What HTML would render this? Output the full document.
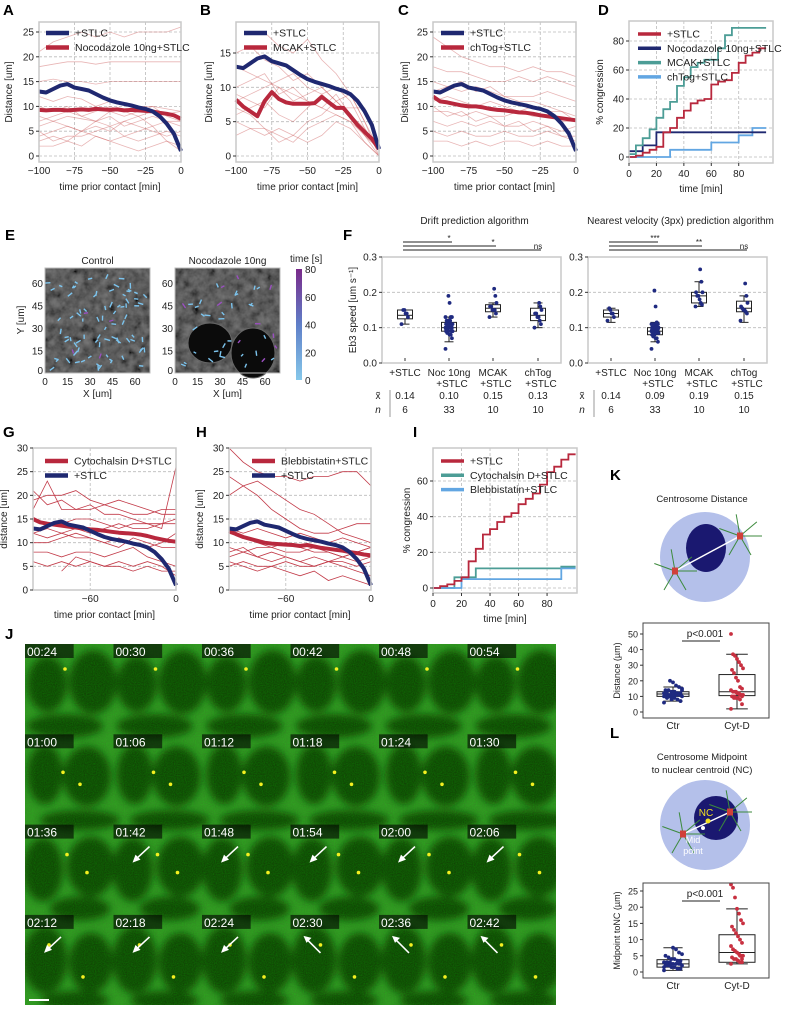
<!DOCTYPE html>
<html><head><meta charset="utf-8"><style>
html,body{margin:0;padding:0;background:#fff}
svg{display:block;font-family:"Liberation Sans",sans-serif}
</style></head><body>
<svg id="fig" width="785" height="1010" viewBox="0 0 785 1010" xmlns="http://www.w3.org/2000/svg">
<defs>
<filter id="grain" x="0" y="0" width="100%" height="100%">
<feTurbulence type="fractalNoise" baseFrequency="0.9" numOctaves="1" seed="3" result="n"/>
<feColorMatrix in="n" type="matrix" values="0 0 0 0 0  0.5 0.9 0 0 0.1  0 0 0 0 0  0 0 0 0.9 0"/>
</filter>
<filter id="ggrain" x="0" y="0" width="100%" height="100%">
<feTurbulence type="fractalNoise" baseFrequency="0.12" numOctaves="3" seed="7" result="n"/>
<feColorMatrix in="n" type="matrix" values="0.6 0.6 0.6 0 -0.5  0.6 0.6 0.6 0 -0.5  0.6 0.6 0.6 0 -0.5  0 0 0 0 1"/>
</filter>
<filter id="blur4" x="-20%" y="-20%" width="140%" height="140%"><feGaussianBlur stdDeviation="4"/></filter>
<clipPath id="jclip"><rect x="25" y="644" width="531" height="361"/></clipPath>
<linearGradient id="cbar" x1="0" y1="1" x2="0" y2="0"><stop offset="0" stop-color="#86c8ea"/><stop offset="0.5" stop-color="#5f7fc8"/><stop offset="1" stop-color="#7a2a8a"/></linearGradient>
</defs>
</svg>
<script>
// ---------- DATA ----------
const thickX=[-100,-95,-90,-85,-80,-75,-70,-65,-60,-55,-50,-45,-40,-35,-30,-25,-20,-15,-10,-5,0];
const thinX=[-100,-90,-80,-70,-60,-50,-40,-30,-20,-10,0];
const stlcMean=[13,12.8,13.5,14.2,14.5,13.8,13.5,13.2,12.5,11.8,11.2,10.8,10.5,10.2,9.8,9.5,9,8,6.5,4.5,1];
const nocMean=[9.3,9.2,9.3,9.3,9.2,9.3,9.4,9.3,9.5,9.4,9.3,9.4,9.2,9.3,9.2,9.1,9,8.7,8.5,8.2,7.5];
const mcakMean=[8.2,7.2,6.5,5.8,8,9.3,8.3,7.8,7.6,7.6,7.6,7.7,8.6,7.8,7,7,5.8,4.5,3.5,2.5,1];
const chtogMean=[12,11,10.8,10.5,10.2,10,10,9.8,9.5,9.3,9.2,9,8.8,8.7,8.5,8.2,8,7.8,7.6,7.4,7.2];
const cytoMean=[15,14.3,14,13.8,13.6,13.4,13.2,13,12.8,12.7,12.5,12.3,12.1,12,11.9,11.7,11.4,11,10.7,10.4,10.2];
const blebMean=[12.5,11.8,11.2,10.8,10.4,10,9.8,9.7,9.6,9.5,9.3,9.5,9.2,8.9,8.7,8.5,8.3,8,7.8,7.5,7.3];
const thinA=[[21,23,24,25,24,25,24,25,25,25,26],[18,18.5,19,19,18.5,19,19,19,19,19,19],[15,15.5,15,15,14.5,15,15,15,15,15,15],[12,11,12,11.5,10,11,10.5,10,10,9.5,9],[10,9,10,8,9,10,9,8,9,8.5,9],[8,7,8,7.5,7,8,6,7,8,7,6],[6,7,6,5,7,6,7,8,6,7,7],[4,5,6,5,6,5,7,6,5,4,5],[3,4,3,5,4,3,4,5,6,3,2],[2,2,3,2,4,3,2,1,2,3,1],[5,3,4,4,5,6,4,3,4,5,4],[7,8,9,8,7,9,8,9,10,8,7]];
const thinB=[[7,6,4,2,3,5,6,8,9,5,0],[13,12,11,10,8,9,10,8,6,4,1],[9,8,7,10,9,8,7,9,6,3,1],[5,4,3,4,3,2,3,5,4,2,0],[10,11,12,9,10,8,7,6,5,3,0],[15,16,14,13,11,12,10,8,6,3,1],[6,7,8,6,5,7,9,10,8,4,1],[null,null,18,16,15,17,14,12,9,5,1],[3,4,4,3,2,4,5,6,5,2,0],[8,9,10,11,12,10,9,7,7,7,1]];
const thinC=[[24,22,20,19,18,18,17,18,17,17,16],[18,17,17,16,15,15,16,15,16,15,14],[15,14,13,14,13,12,12,12,13,12,11],[11,12,11,10,11,10,9,10,9,9,8],[9,9,8,9,8,8,9,8,8,7,7],[7,6,7,6,7,6,6,7,6,5,6],[5,4,5,4,4,5,4,4,5,4,4],[3,3,2,3,2,3,3,2,3,2,2],[13,14,15,13,14,12,11,11,10,9,7],[10,8,9,7,8,6,7,5,6,4,3]];
const thinG=[[21,18,19,17,17,18,17,16,16,17,17],[19,20,20,21,19,18,19,18,17,16,16],[17,23,17,17,18,16,16,15,14,14,15],[12,11,12,11,11,10,9,11,10,9,9],[10,10,11,12,11,10,11,10,9,10,12],[8,8,7,8,8,7,8,9,7,6,5],[12,13,12,13,12,13,14,13,13,14,14],[6,5,6,5,6,5,5,4,5,4,4],[null,null,4,7,6,5,6,5,6,5,3],[15,14,14,15,15,14,13,14,14,13,26]];
const thinH=[[24,22,20,17,15,13,12,12,13,14,14],[30,27,25,24,24,23,24,24,25,25,22],[20,22,23,21,19,17,16,14,12,11,10],[13,12,13,12,11,12,11,10,11,10,9],[9,8,9,9,8,8,9,8,7,8,9],[7,8,7,8,7,6,7,6,6,5,6],[5,6,5,5,6,5,5,6,5,4,3],[6,5,4,5,4,3,4,2,3,2,1],[8,9,7,6,7,6,5,6,7,6,7],[12,11,10,9,10,9,8,8,7,8,9]];
const congT=[0,5,10,15,20,25,30,35,40,45,50,55,60,65,70,75,80,85,90,95,100];
const congStlc=[0,1,3,5,7,17,20,27,32,37,39,40,50,52,53,58,65,70,72,75,75];
const congNoc=[4,4,8,8,17,17,17,17,17,17,17,17,17,17,17,17,17,17,17,17,17];
const congMcak=[2,8,13,19,27,33,38,49,55,62,65,67,67,75,84,89,89,89,89,89,89];
const congChtog=[0,0,0,0,0,0,5,5,5,5,5,5,10,10,10,10,15,15,20,20,20];
const congStlcI=[0,1,2,4,6,15,22,30,33,37,40,42,47,50,53,58,65,68,72,75,75];
const congCyto=[0,0,0,6,6,6,11,11,11,11,11,11,11,11,11,11,11,11,12,12,12];
const congBleb=[0,0,0,0,5,5,5,5,5,5,5,5,5,5,5,5,5,5,11,11,11];
const fCats=['+STLC','Noc 10ng','MCAK','chTog'];
const fCats2=['','+STLC','+STLC','+STLC'];
const fMedL=['0.14','0.10','0.15','0.13'];
const fMedR=['0.14','0.09','0.19','0.15'];
const fN=['6','33','10','10'];
const fStatsL=[[0.11,0.125,0.135,0.15,0.15],[0.06,0.09,0.10,0.115,0.13],[0.13,0.145,0.155,0.165,0.17],[0.10,0.12,0.135,0.155,0.17]];
const fStatsR=[[0.115,0.13,0.14,0.15,0.155],[0.06,0.08,0.09,0.10,0.115],[0.16,0.17,0.19,0.20,0.23],[0.115,0.145,0.155,0.175,0.19]];
const fPtsL=[[0.11,0.13,0.14,0.14,0.15,0.15],[0.04,0.07,0.08,0.08,0.09,0.09,0.09,0.09,0.09,0.10,0.10,0.10,0.10,0.10,0.10,0.10,0.11,0.11,0.11,0.11,0.11,0.11,0.12,0.12,0.12,0.12,0.13,0.13,0.13,0.17,0.19,0.085,0.095],[0.13,0.14,0.15,0.15,0.15,0.16,0.16,0.17,0.19,0.21],[0.10,0.11,0.12,0.13,0.13,0.14,0.14,0.15,0.16,0.17]];
const fPtsR=[[0.12,0.13,0.14,0.14,0.15,0.155],[0.04,0.06,0.07,0.07,0.08,0.08,0.08,0.085,0.085,0.09,0.09,0.09,0.09,0.09,0.095,0.095,0.1,0.1,0.1,0.1,0.1,0.1,0.105,0.11,0.11,0.11,0.11,0.11,0.115,0.16,0.205,0.075,0.095],[0.16,0.165,0.17,0.18,0.19,0.19,0.2,0.2,0.23,0.265],[0.12,0.14,0.145,0.15,0.15,0.155,0.16,0.17,0.19,0.225]];
const kStats=[[7,10,11.5,13,16],[2,10.5,13,24,37]];
const kPts=[[6,7,8,9,9,10,10,10,11,11,11,11,12,12,12,12,13,13,14,14,15,16,17,19,20,9,10,11,12,13,8,10,12,14],[2,5,8,9,9,10,10,11,11,12,12,13,13,14,15,16,20,22,25,27,28,30,32,34,36,37,50,10,11,12,13,9]];
const lStats=[[0.5,1.5,2.5,3.8,7.5],[2.5,3,6,11.5,19.5]];
const lPts=[[0.5,1,1,1.5,1.5,2,2,2,2.5,2.5,2.5,3,3,3,3.5,3.5,4,4,4.5,5,5.5,6,7,7.5,2,3,1.5,2.5],[2.5,3,3,3.5,4,4,4.5,5,5,5.5,6,6.5,7,8,9,10,11,12,13,14,15,16,18,19.5,23,26,27,4,5,3.5]];
const jTimes=['00:24','00:30','00:36','00:42','00:48','00:54','01:00','01:06','01:12','01:18','01:24','01:30','01:36','01:42','01:48','01:54','02:00','02:06','02:12','02:18','02:24','02:30','02:36','02:42'];

// ---------- HELPERS ----------
const NS='http://www.w3.org/2000/svg';
const svg=document.getElementById('fig');
function mk(tag,attrs,parent){const e=document.createElementNS(NS,tag);for(const k in attrs)e.setAttribute(k,attrs[k]);(parent||svg).appendChild(e);return e;}
function txt(x,y,s,attrs,parent){const e=mk('text',Object.assign({x:x,y:y,'font-size':10,fill:'#222'},attrs||{}),parent);e.textContent=s;return e;}
function scale(d0,d1,r0,r1){return v=>r0+(v-d0)/(d1-d0)*(r1-r0);}
function pathD(xs,ys,sx,sy){let d='',pen=false;for(let i=0;i<xs.length;i++){if(ys[i]==null){pen=false;continue;}d+=(pen?'L':'M')+sx(xs[i]).toFixed(1)+','+sy(ys[i]).toFixed(1);pen=true;}return d;}
function stepD(xs,ys,sx,sy,xEnd){let d='M'+sx(xs[0])+','+sy(ys[0]);for(let i=1;i<xs.length;i++){d+='H'+sx(xs[i]).toFixed(1)+'V'+sy(ys[i]).toFixed(1);}d+='H'+sx(xEnd);return d;}
function letter(x,y,s){const t=txt(x,y,s,{'font-size':15,'font-weight':'bold',fill:'#000'});

}
function frame(g,x0,y0,x1,y1){const r=mk('rect',{x:x0,y:y0,width:x1-x0,height:y1-y0,fill:'none',stroke:'#c8c8c8','stroke-width':1.5},g);

}
function grid(g,x0,y0,x1,y1,sx,sy,xt,yt){
 xt.forEach(v=>mk('line',{x1:sx(v),x2:sx(v),y1:y0,y2:y1,stroke:'#bbb','stroke-dasharray':'3,2','stroke-width':0.8},g));
 yt.forEach(v=>mk('line',{x1:x0,x2:x1,y1:sy(v),y2:sy(v),stroke:'#bbb','stroke-dasharray':'3,2','stroke-width':0.8},g));}
function vlabel(x,y,s,g,fs){return txt(x,y,s,{'font-size':fs||10,'text-anchor':'middle',transform:'rotate(-90 '+x+' '+y+')'},g);}

// ---------- LINE PANELS ----------
function linePanel(o){
 const g=mk('g',{});
 
 
 const sx=scale(-100,0,o.x0,o.x1), sy=scale(0,o.ymax,o.yb,o.yt);
 grid(g,o.x0,o.top,o.x1,o.bot,sx,sy,o.xt,o.yticks);
 o.thin.forEach(s=>{const p=mk('path',{d:pathD(thinX,s,sx,sy),fill:'none',stroke:o.thinColor,'stroke-width':o.thinW},g);
  
  });
 o.series.forEach(s=>{const p=mk('path',{d:pathD(thickX,s.v,sx,sy),fill:'none',stroke:s.c,'stroke-width':4,'stroke-linejoin':'round'},g);
  
  });
 frame(g,o.x0,o.top,o.x1,o.bot);
 o.yticks.forEach(v=>{mk('line',{x1:o.x0-3,x2:o.x0,y1:sy(v),y2:sy(v),stroke:'#333'},g);txt(o.x0-5,sy(v)+3.5,String(v),{'text-anchor':'end'},g);});
 o.xt.forEach((v,i)=>{txt(sx(v),o.bot+12,o.xtl[i],{'text-anchor':'middle'},g);});
 txt((o.x0+o.x1)/2,o.bot+28,'time prior contact [min]',{'text-anchor':'middle'},g);
 vlabel(o.ylx,(o.top+o.bot)/2,o.ylabel,g);
 o.legend.forEach((l,i)=>{const y=o.ly+i*14.5;
  const sw=mk('line',{x1:o.lx,x2:o.lx+23,y1:y,y2:y,stroke:l.c,'stroke-width':4.5},g);
  
  
  const t=txt(o.lx+29,y+3.5,l.t,{'font-size':10.5},g);
  
  });
}
const NAVY='#1f2870',RED='#b8283d',TEAL='#4c9d96',LB='#62a6e2',THIN='rgba(205,90,90,0.45)';
const xtA=[-100,-75,-50,-25,0], xtlA=['\u2212100','\u221275','\u221250','\u221225','0'];
letter(3,15,'A');letter(200,15,'B');letter(398,15,'C');letter(598,15,'D');
linePanel({name:'panel-a-chart',x0:39,x1:181,top:22,bot:162,yb:156,yt:32,ymax:25,yticks:[0,5,10,15,20,25],xt:xtA,xtl:xtlA,thin:thinA,thinColor:THIN,thinW:0.8,
 series:[{v:nocMean,c:RED,n:'noc-mean-line'},{v:stlcMean,c:NAVY,n:'stlc-mean-line'}],legend:[{t:'+STLC',c:NAVY},{t:'Nocodazole 10ng+STLC',c:RED}],lx:46,ly:33,ylx:12,ylabel:'Distance [um]'});
linePanel({name:'panel-b-chart',x0:236,x1:379,top:22,bot:162,yb:156,yt:53,ymax:15,yticks:[0,5,10,15],xt:xtA,xtl:xtlA,thin:thinB,thinColor:THIN,thinW:0.8,
 series:[{v:mcakMean,c:RED,n:'mcak-mean-line'},{v:stlcMean,c:NAVY,n:'stlc-mean-line'}],legend:[{t:'+STLC',c:NAVY},{t:'MCAK+STLC',c:RED}],lx:244,ly:33,ylx:212,ylabel:'Distance [um]'});
linePanel({name:'panel-c-chart',x0:433,x1:576,top:22,bot:162,yb:156,yt:32,ymax:25,yticks:[0,5,10,15,20,25],xt:xtA,xtl:xtlA,thin:thinC,thinColor:THIN,thinW:0.8,
 series:[{v:chtogMean,c:RED,n:'chtog-mean-line'},{v:stlcMean,c:NAVY,n:'stlc-mean-line'}],legend:[{t:'+STLC',c:NAVY},{t:'chTog+STLC',c:RED}],lx:441,ly:33,ylx:408,ylabel:'Distance [um]'});
const xtlG=['\u221260','0'];
letter(3,437,'G');letter(196,437,'H');letter(413,437,'I');
linePanel({name:'panel-g-chart',x0:33,x1:176,top:448,bot:590,yb:590,yt:448,ymax:30,yticks:[0,5,10,15,20,25,30],xt:[-60,0],xtl:xtlG,thin:thinG,thinColor:'#c23a48',thinW:0.8,
 series:[{v:cytoMean,c:RED,n:'cyto-mean-line'},{v:stlcMean,c:NAVY,n:'stlc-mean-line'}],legend:[{t:'Cytochalsin D+STLC',c:RED},{t:'+STLC',c:NAVY}],lx:45,ly:461,ylx:7,ylabel:'distance [um]'});
linePanel({name:'panel-h-chart',x0:229,x1:371,top:448,bot:590,yb:590,yt:448,ymax:30,yticks:[0,5,10,15,20,25,30],xt:[-60,0],xtl:xtlG,thin:thinH,thinColor:'#c23a48',thinW:0.8,
 series:[{v:blebMean,c:RED,n:'bleb-mean-line'},{v:stlcMean,c:NAVY,n:'stlc-mean-line'}],legend:[{t:'Blebbistatin+STLC',c:RED},{t:'+STLC',c:NAVY}],lx:252,ly:461,ylx:203,ylabel:'distance [um]'});

// ---------- STEP PANELS ----------
function stepPanel(o){
 const g=mk('g',{});
 
 
 const sx=scale(0,o.xmax,o.x0,o.x1), sy=scale(0,o.yv,o.yb,o.yvp);
 grid(g,o.x0,o.top,o.x1,o.bot,sx,sy,[20,40,60,80],o.yticks);
 o.series.forEach(s=>{const p=mk('path',{d:stepD(congT,s.v,sx,sy,99),fill:'none',stroke:s.c,'stroke-width':1.8},g);
  
  });
 frame(g,o.x0,o.top,o.x1,o.bot);
 o.yticks.forEach(v=>{mk('line',{x1:o.x0-3,x2:o.x0,y1:sy(v),y2:sy(v),stroke:'#333'},g);txt(o.x0-5,sy(v)+3.5,String(v),{'text-anchor':'end'},g);});
 [0,20,40,60,80].forEach(v=>{mk('line',{x1:sx(v),x2:sx(v),y1:o.bot,y2:o.bot+3,stroke:'#333'},g);txt(sx(v),o.bot+14,String(v),{'text-anchor':'middle'},g);});
 txt((o.x0+o.x1)/2,o.bot+29,'time [min]',{'text-anchor':'middle'},g);
 vlabel(o.ylx,(o.top+o.bot)/2,'% congression',g);
 o.legend.forEach((l,i)=>{const y=o.ly+i*14.3;
  const sw=mk('line',{x1:o.lx,x2:o.lx+23,y1:y,y2:y,stroke:l.c,'stroke-width':3.5},g);
  
  
  const t=txt(o.lx+29,y+3.5,l.t,{'font-size':10.5},g);
  
  });
}
stepPanel({name:'panel-d-chart',x0:629,x1:773,top:21,bot:163,xmax:105,yb:157,yv:80,yvp:41,yticks:[0,20,40,60,80],ylx:603,
 series:[{v:congChtog,c:LB,n:'chtog-congression'},{v:congNoc,c:NAVY,n:'noc-congression'},{v:congStlc,c:RED,n:'stlc-congression'},{v:congMcak,c:TEAL,n:'mcak-congression'}],
 legend:[{t:'+STLC',c:RED},{t:'Nocodazole 10ng+STLC',c:NAVY},{t:'MCAK+STLC',c:TEAL},{t:'chTog+STLC',c:LB}],lx:638,ly:34});
stepPanel({name:'panel-i-chart',x0:433,x1:577,top:448,bot:593,xmax:101,yb:588,yv:60,yvp:481,yticks:[0,20,40,60],ylx:410,
 series:[{v:congCyto,c:TEAL,n:'cyto-congression'},{v:congBleb,c:LB,n:'bleb-congression'},{v:congStlcI,c:RED,n:'stlc-congression'}],
 legend:[{t:'+STLC',c:RED},{t:'Cytochalsin D+STLC',c:TEAL},{t:'Blebbistatin+STLC',c:LB}],lx:441,ly:461});

// ---------- PANEL E ----------
letter(5,240,'E');
let seed=12345;function rnd(){seed=(seed*1103515245+12345)%2147483648;return seed/2147483648;}
function eImage(x0,title,nuclei,n,purpleFrac){
 const g=mk('g',{});
 
 
 const w=105,h=105,y0=268;
 mk('rect',{x:x0,y:y0,width:w,height:h,fill:'#1c1c1c'},g);
 mk('rect',{x:x0,y:y0,width:w,height:h,filter:'url(#ggrain)',opacity:0.45},g);
 nuclei.forEach(nu=>mk('ellipse',{cx:x0+nu[0],cy:y0+nu[1],rx:nu[2],ry:nu[3],fill:'#0b0b0b',stroke:'#666','stroke-width':1},g));
 for(let i=0;i<n;i++){const cx=x0+5+rnd()*(w-10),cy=y0+5+rnd()*(h-10),a=rnd()*Math.PI;const l=3+rnd()*3;
  const pur=rnd()<purpleFrac;
  mk('line',{x1:cx,y1:cy,x2:cx+Math.cos(a)*l,y2:cy+Math.sin(a)*l,stroke:pur?'#9a4fc0':'#7cc4ee','stroke-width':1.4},g);}
 mk('rect',{x:x0,y:y0,width:w,height:h,fill:'none',stroke:'#bbb','stroke-width':1},g);
 txt(x0+w/2,y0-4,title,{'text-anchor':'middle'},g);
 const sy=scale(0,70,y0+h,y0), sx=scale(0,70,x0,x0+w);
 [0,15,30,45,60].forEach(v=>{txt(x0-2,sy(v)+(v==0?1:4),String(v),{'text-anchor':'end'},g);txt(sx(v),y0+h+12,String(v),{'text-anchor':'middle'},g);});
 txt(x0+w/2,y0+h+24,'X [um]',{'text-anchor':'middle'},g);
}
eImage(45,'Control',[],85,0.05);
eImage(175,'Nocodazole 10ng',[[35,75,22,20],[78,85,22,25]],40,0.35);
vlabel(24,320,'Y [um]');
(function(){const cb=mk('rect',{x:296,y:269,width:6,height:111,fill:'url(#cbar)'});


const s=scale(0,80,380,269);[0,20,40,60,80].forEach(v=>txt(305,s(v)+4,String(v)));
txt(290,262,'time [s]');})();

// ---------- PANEL F ----------
letter(343,240,'F');
function boxPlot(g,cx,w,st,pts,sy,col,jw){
 mk('line',{x1:cx,x2:cx,y1:sy(st[0]),y2:sy(st[4]),stroke:'#222','stroke-width':1},g);
 [st[0],st[4]].forEach(v=>mk('line',{x1:cx-w*0.3,x2:cx+w*0.3,y1:sy(v),y2:sy(v),stroke:'#222','stroke-width':1},g));
 const b=mk('rect',{x:cx-w/2,y:sy(st[3]),width:w,height:sy(st[1])-sy(st[3]),fill:'#fff',stroke:'#222','stroke-width':1},g);
 
 
 mk('line',{x1:cx-w/2,x2:cx+w/2,y1:sy(st[2]),y2:sy(st[2]),stroke:'#222','stroke-width':1},g);
 pts.forEach((v,i)=>{const j=(((i*37)%13)/12-0.5)*jw;
  const c=mk('circle',{cx:cx+j,cy:sy(v),r:1.9,fill:col},g);
  
  });
}
function fPlot(x0,x1,title,stats,pts,meds,tableX,sig){
 const g=mk('g',{});
 
 
 const sy=scale(0,0.3,363,257);
 const cats=[x0+23,x0+67,x0+111,x0+156];
 [0.1,0.2].forEach(v=>mk('line',{x1:x0,x2:x1,y1:sy(v),y2:sy(v),stroke:'#bbb','stroke-dasharray':'3,2','stroke-width':0.8},g));
 stats.forEach((st,i)=>boxPlot(g,cats[i],15,st,pts[i],sy,'#1f2a80',7));
 frame(g,x0,257,x1,363);
 [0,0.1,0.2,0.3].forEach(v=>{mk('line',{x1:x0-3,x2:x0,y1:sy(v),y2:sy(v),stroke:'#333'},g);txt(x0-5,sy(v)+3.5,v.toFixed(1),{'text-anchor':'end'},g);});
 cats.forEach((c,i)=>{mk('line',{x1:c,x2:c,y1:358,y2:361,stroke:'#333'},g);txt(c,376,fCats[i],{'text-anchor':'middle'},g);if(fCats2[i])txt(c+3,387,fCats2[i],{'text-anchor':'middle'},g);
  txt(c,399,meds[i],{'text-anchor':'middle'},g);txt(c,413,fN[i],{'text-anchor':'middle'},g);});
 txt((x0+x1)/2+3,224,title,{'text-anchor':'middle'},g);
 txt(tableX,399,'x\u0303',{'text-anchor':'middle'},g);txt(tableX,413,'n',{'text-anchor':'middle','font-style':'italic'},g);
 mk('line',{x1:tableX+12,x2:tableX+12,y1:390,y2:417,stroke:'#999'},g);
 sig.forEach((s,i)=>{const y=242+i*4;mk('line',{x1:cats[0]-2,x2:cats[i+1]+3,y1:y,y2:y,stroke:'#222','stroke-width':1},g);txt(cats[i+1],y-1,s,{'text-anchor':'middle','font-size':8},g);});
}
fPlot(382,561,'Drift prediction algorithm',fStatsL,fPtsL,fMedL,378,['*','*','ns']);
fPlot(588,767,'Nearest velocity (3px) prediction algorithm',fStatsR,fPtsR,fMedR,582,['***','**','ns']);
vlabel(356,310,'Eb3 speed [um s\u207B\u00B9]');

// ---------- PANELS K / L ----------
letter(610,480,'K');letter(610,738,'L');
function cellDiagram(cx,cy,nu,c1,c2,showMid){
 const g=mk('g',{});
 
 
 mk('circle',{cx:cx,cy:cy,r:45,fill:'#b4c0ea'},g);
 mk('ellipse',{cx:nu[0],cy:nu[1],rx:nu[2],ry:nu[3],fill:'#1a1870'},g);
 [c1,c2].forEach(c=>{[0,60,120,200,260,320].forEach(a=>{const r=a*Math.PI/180;mk('line',{x1:c[0],y1:c[1],x2:c[0]+Math.cos(r)*22,y2:c[1]+Math.sin(r)*22,stroke:'#3c8a3c','stroke-width':1},g);});});
 mk('line',{x1:c1[0],y1:c1[1],x2:c2[0],y2:c2[1],stroke:'#fff','stroke-width':1.5},g);
 [c1,c2].forEach(c=>mk('rect',{x:c[0]-3,y:c[1]-3.5,width:6,height:7,fill:'#d0403a'},g));
 if(showMid){mk('circle',{cx:nu[0]-8,cy:nu[1]+3,r:2.5,fill:'#f2e020'},g);mk('circle',{cx:nu[0]-13,cy:nu[1]+10,r:2,fill:'#fff'},g);
  txt(nu[0]-10,nu[1]-2,'NC',{fill:'#f2e020','font-size':10,'text-anchor':'middle'},g);
  txt(nu[0]-23,nu[1]+25,'Mid',{fill:'#fff','font-size':9,'text-anchor':'middle'},g);txt(nu[0]-23,nu[1]+36,'point',{fill:'#fff','font-size':9,'text-anchor':'middle'},g);}
}
txt(702,502,'Centrosome Distance',{'text-anchor':'middle','font-size':9.5});
cellDiagram(705,557,[706,548,20,24],[675,571],[740,536],false);
txt(702,760,'Centrosome Midpoint',{'text-anchor':'middle','font-size':9.5});
txt(702,773,'to nuclear centroid (NC)',{'text-anchor':'middle','font-size':9.5});
cellDiagram(705,825,[716,818,22,22],[683,834],[730,812],true);
function klPlot(name,y0,y1,yticks,yv,yvp,stats,pts,ylabel,py){
 const g=mk('g',{});
 
 
 const sy=scale(0,yv,y1-6,yvp);
 boxPlot(g,673,32,stats[0],pts[0],sy,'#1f2a80',18);
 boxPlot(g,737,36,stats[1],pts[1],sy,'#c83040',12);
 mk('rect',{x:643,y:y0,width:126,height:y1-y0,fill:'none',stroke:'#444','stroke-width':1},g);
 yticks.forEach(v=>{mk('line',{x1:640,x2:643,y1:sy(v),y2:sy(v),stroke:'#333'},g);txt(638,sy(v)+3.5,String(v),{'text-anchor':'end','font-size':9},g);});
 txt(673,y1+11,'Ctr',{'text-anchor':'middle'},g);txt(737,y1+11,'Cyt-D',{'text-anchor':'middle'},g);
 txt(705,py,'p<0.001',{'text-anchor':'middle'},g);mk('line',{x1:682,x2:720,y1:py+4,y2:py+4,stroke:'#222'},g);
 vlabel(620,(y0+y1)/2,ylabel,g,9);
}
klPlot('centrosome-distance-boxplot',623,718,[0,10,20,30,40,50],50,634,kStats,kPts,'Distance (\u00B5m)',637);
klPlot('midpoint-nc-boxplot',883,978,[0,5,10,15,20,25],25,891,lStats,lPts,'Midpoint toNC (\u00B5m)',897);

// ---------- PANEL J ----------
letter(5,639,'J');
const blobRows=[[[22,40,20,28],[68,38,24,32],[40,82,38,12]],[[20,40,18,30],[62,42,24,30],[55,86,40,10]],[[18,45,20,32],[66,42,24,30],[55,84,30,12]],[[20,45,22,34],[66,48,22,30],[50,86,34,10]]];
const dotRows=[[[40,25]],[[38,38],[55,50]],[[42,30],[62,48]],[[24,30],[58,62]]];
(function(){
 const g=mk('g',{'clip-path':'url(#jclip)'});
 
 
 const TW=88.5,TH=90.3,X0=25,Y0=644;
 mk('rect',{x:X0,y:Y0,width:TW*6,height:TH*4,fill:'#3a8a28'},g);
 const bl=mk('g',{filter:'url(#blur4)',opacity:0.85},g);
 jTimes.forEach((t,k)=>{const r=Math.floor(k/6),c=k%6,x=X0+c*TW,y=Y0+r*TH;
  blobRows[r].forEach(b=>mk('ellipse',{cx:x+b[0]+c*1.2,cy:y+b[1],rx:b[2],ry:b[3],fill:'#0c2a06'},bl));});
 mk('rect',{x:X0,y:Y0,width:TW*6,height:TH*4,filter:'url(#grain)',opacity:0.35},g);
 jTimes.forEach((t,k)=>{const r=Math.floor(k/6),c=k%6,x=X0+c*TW,y=Y0+r*TH;
  const tile=mk('g',{},g);
  
  
  mk('rect',{x:x,y:y,width:TW*0.55,height:14,fill:'#000',opacity:0.6},tile);
  txt(x+2,y+12,t,{fill:'#fff','font-size':12},tile);
  dotRows[r].forEach(d=>mk('circle',{cx:x+d[0]+c*2,cy:y+d[1],r:1.8,fill:'#f4f020'},tile));
  if((r==2&&c>=1)||(r==3&&c<3)){mk('line',{x1:x+36,y1:y+22,x2:x+22,y2:y+35,stroke:'#fff','stroke-width':1.6},tile);mk('path',{d:'M'+(x+19)+','+(y+38)+'l3,-8l5,5z',fill:'#fff'},tile);}
  if(r==3&&c>=3){mk('line',{x1:x+30,y1:y+38,x2:x+16,y2:y+24,stroke:'#fff','stroke-width':1.6},tile);mk('path',{d:'M'+(x+13)+','+(y+21)+'l8,2l-5,5z',fill:'#fff'},tile);}
 });
 mk('line',{x1:X0+4,x2:X0+24,y1:1000,y2:1000,stroke:'#fff','stroke-width':2},g);
})();
</script>
</body></html>
